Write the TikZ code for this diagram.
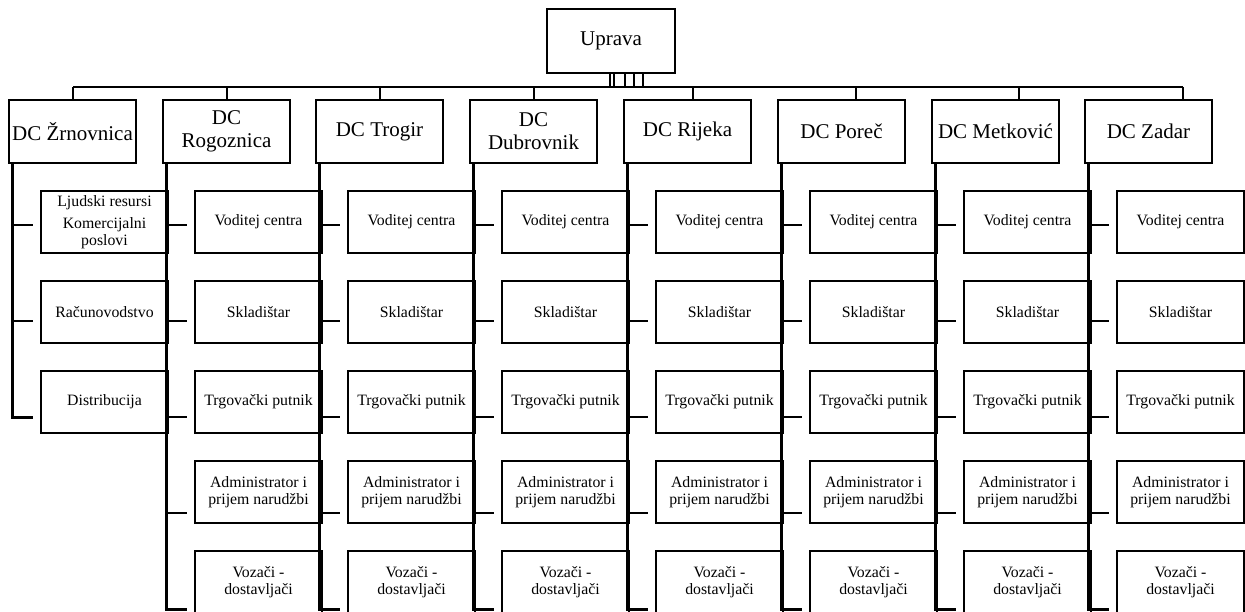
\documentclass[tikz,border=0pt]{standalone}
\usepackage{fontspec}
\setmainfont{Liberation Serif}
\begin{document}
\begin{tikzpicture}[x=1pt,y=-1pt,
  dcbox/.style={draw,line width=2pt,minimum width=127pt,minimum height=63pt,inner sep=0pt,align=center,font=\fontsize{21}{23}\selectfont},
  cbox/.style={draw,line width=2pt,minimum width=127pt,minimum height=62pt,inner sep=0pt,align=center,font=\fontsize{15.8}{17}\selectfont},
  barline/.style={line width=2.6pt},
  dropline/.style={line width=1.8pt},
  spineline/.style={line width=3pt},
  stubline/.style={line width=2.6pt}]
\useasboundingbox (0,0) rectangle (1245,612);
\clip (0,0) rectangle (1245,612);
% top
\node[dcbox,minimum height=64pt,minimum width=128pt] (up) at (611,41) {Uprava};
\foreach \k/\x in {1/610,2/614,3/625,4/634,5/643}{
  \coordinate (u\k) at (\x,87);
  \draw[line width=1.7pt] (u\k |- up.south) -- (u\k);
}
% DC boxes
\foreach \i/\L/\d/\t in {1/9/73/{DC Žrnovnica},2/163/227/{DC\\Rogoznica},3/316/380/{DC Trogir},4/470/534/{DC\\Dubrovnik},5/624/693/{DC Rijeka},6/778/856/{DC Poreč},7/932/1019/{DC Metković},8/1085/1183/{DC Zadar}}{
  \node[dcbox] (dc\i) at (\L+63.5,131.5) {\t};
  \coordinate (t\i) at (\d,87);
  \coordinate (sp\i) at (\L+3,0);
  \draw[dropline] (t\i) -- (t\i |- dc\i.north);
}
\draw[barline] (t1) -- (t8);
% column 1
\node[cbox] (c1-1) at (9+95.5,222) {\rule{0pt}{6pt}Ljudski resursi\\[5pt]Komercijalni\\poslovi};
\node[cbox] (c1-2) at (9+95.5,312) {Računovodstvo};
\node[cbox] (c1-3) at (9+95.5,402) {Distribucija};
\foreach \j/\sy in {1/225,2/321,3/417}{
  \coordinate (e1-\j) at (9+24,\sy);
}
\draw[spineline] (sp1 |- dc1.south) |- (e1-3);
\foreach \j in {1,2}{\draw[stubline] (sp1 |- e1-\j) -- (e1-\j);}
% columns 2..8
\foreach \i/\L in {2/163,3/316,4/470,5/624,6/778,7/932,8/1085}{
  \foreach \j/\cy/\sy/\txt in {1/222/225/{Voditej centra},2/312/321/{Skladištar},3/402/417/{Trgovački putnik},4/492/513/{Administrator i\\prijem narudžbi},5/582/609/{Vozači -\\dostavljači}}{
    \node[cbox] (c\i-\j) at (\L+95.5,\cy) {\txt};
    \coordinate (e\i-\j) at (\L+24,\sy);
  }
  \draw[spineline] (sp\i |- dc\i.south) |- (e\i-5);
  \foreach \j in {1,2,3,4}{\draw[stubline] (sp\i |- e\i-\j) -- (e\i-\j);}
}
\end{tikzpicture}
\end{document}
